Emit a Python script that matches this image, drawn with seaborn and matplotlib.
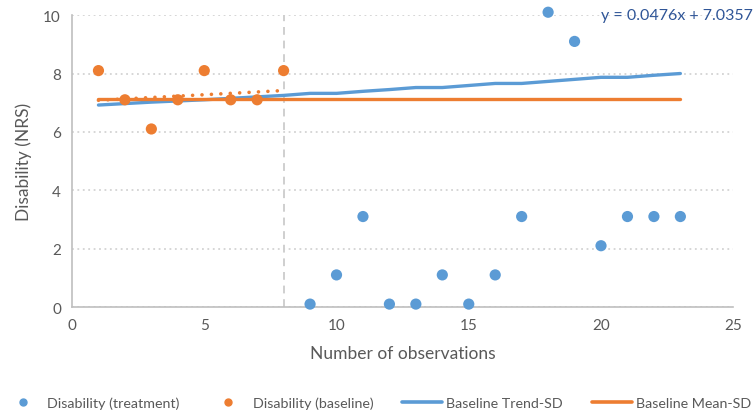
import numpy as np
import pandas as pd
import matplotlib
matplotlib.use("Agg")
import matplotlib.pyplot as plt
import seaborn as sns
from matplotlib.lines import Line2D

# data
baseline_obs = [1, 2, 3, 4, 5, 6, 7, 8]
baseline_val = [8.1, 7.1, 6.1, 7.1, 8.1, 7.1, 7.1, 8.1]

treatment_obs = [9, 10, 11, 12, 13, 14, 15, 16, 17, 18, 19, 20, 21, 22, 23]
treatment_val = [0.1, 1.1, 3.1, 0.1, 0.1, 1.1, 0.1, 1.1, 3.1, 10.1, 9.1, 2.1, 3.1, 3.1, 3.1]

line_obs = list(range(1, 24))
trend_sd = [6.92, 6.97, 7.02, 7.06, 7.10, 7.15, 7.20, 7.25, 7.32, 7.32, 7.39, 7.45,
            7.52, 7.52, 7.59, 7.66, 7.66, 7.73, 7.80, 7.87, 7.87, 7.94, 8.00]
mean_sd = [7.12] * 23

# linear trendline of the baseline phase (from the chart label)
trend_slope = 0.0476
trend_intercept = 7.0357

BLUE = "#5B9BD5"
ORANGE = "#ED7D31"
GREY_TXT = "#595959"

sns.set_theme(style="white")
plt.rcParams['font.family'] = ['Lato', 'DejaVu Sans']

fig = plt.figure(figsize=(7.54, 4.14), dpi=100)
ax = fig.add_axes([0.0955, 0.256, 0.877, 0.705])

lines_df = pd.DataFrame({'obs': line_obs, 'trend': trend_sd, 'mean': mean_sd})
sns.lineplot(data=lines_df, x='obs', y='trend', ax=ax, color=BLUE, lw=2.4,
             solid_capstyle='round', zorder=2)
sns.lineplot(data=lines_df, x='obs', y='mean', ax=ax, color=ORANGE, lw=2.4,
             solid_capstyle='round', zorder=2)

# dotted baseline trendline
tx = np.array([baseline_obs[0], baseline_obs[-1]])
ax.plot(tx, trend_slope * tx + trend_intercept, color=ORANGE, lw=2.6,
        ls=(0, (0.01, 2.6)), dash_capstyle='round', zorder=3)

sns.scatterplot(x=treatment_obs, y=treatment_val, ax=ax, color=BLUE, s=65,
                edgecolor='none', zorder=4, clip_on=False)
sns.scatterplot(x=baseline_obs, y=baseline_val, ax=ax, color=ORANGE, s=65,
                edgecolor='none', zorder=4, clip_on=False)

# phase change line
ax.axvline(8, color='#CFCFCF', lw=1.4, ls=(0, (4, 3)), zorder=1)

ax.set_xlim(0, 25)
ax.set_ylim(0, 10)
ax.set_xticks(range(0, 26, 5))
ax.set_yticks(range(0, 11, 2))
ax.yaxis.grid(True, color='#D3D3D3', lw=1.3, ls=(0, (1, 2)))
ax.xaxis.grid(False)
ax.set_axisbelow(True)
for side in ['top', 'right']:
    ax.spines[side].set_visible(False)
for side in ['left', 'bottom']:
    ax.spines[side].set_color('#BFBFBF')
    ax.spines[side].set_linewidth(1.2)
ax.tick_params(axis='both', length=0, labelsize=11, labelcolor=GREY_TXT, pad=8)

ax.set_xlabel('Number of observations', fontsize=12.5, color=GREY_TXT, labelpad=9)
ax.set_ylabel('Disability (NRS)', fontsize=12.5, color=GREY_TXT, labelpad=8)

ax.text(20.0, 10.0, 'y = 0.0476x + 7.0357', fontsize=11.5, color='#2F5597',
        va='center', ha='left', clip_on=False)

handles = [
    Line2D([], [], ls='none', marker='o', ms=5, color=BLUE, label='Disability (treatment)'),
    Line2D([], [], ls='none', marker='o', ms=5, color=ORANGE, label='Disability (baseline)'),
    Line2D([], [], color=BLUE, lw=2.6, label='Baseline Trend-SD'),
    Line2D([], [], color=ORANGE, lw=2.6, label='Baseline Mean-SD'),
]
fig.legend(handles=handles, loc='center', bbox_to_anchor=(0.5, 0.025), ncol=4,
           frameon=False, fontsize=10.3, labelcolor=GREY_TXT, handlelength=2.8,
           handletextpad=0.3, columnspacing=2.0)

fig.savefig('out.png', dpi=100)
